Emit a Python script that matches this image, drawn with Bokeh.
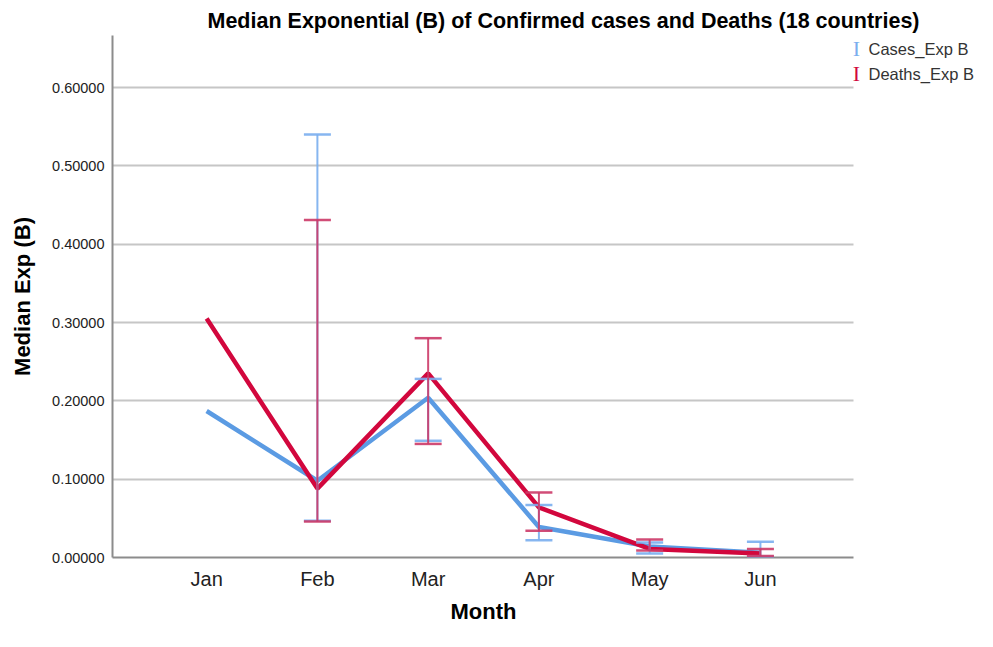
from bokeh.plotting import figure
from bokeh.models import (ColumnDataSource, Range1d, FixedTicker, PrintfTickFormatter,
                          Whisker, TeeHead, Label, Title)
from bokeh.embed import file_html
from bokeh.resources import INLINE

months = ["Jan", "Feb", "Mar", "Apr", "May", "Jun"]
cases_med = [0.187, 0.098, 0.204, 0.039, 0.014, 0.006]
cases_lo = [None, 0.047, 0.149, 0.022, 0.005, 0.001]
cases_hi = [None, 0.540, 0.228, 0.067, 0.019, 0.020]
deaths_med = [0.305, 0.088, 0.235, 0.064, 0.011, 0.005]
deaths_lo = [None, 0.046, 0.145, 0.034, 0.009, 0.002]
deaths_hi = [None, 0.431, 0.280, 0.083, 0.023, 0.011]
y_ticks = [0.0, 0.1, 0.2, 0.3, 0.4, 0.5, 0.6]

title_text = "Median Exponential (B) of Confirmed cases and Deaths (18 countries)"
x_title = "Month"
y_title = "Median Exp (B)"
series_names = ["Cases_Exp B", "Deaths_Exp B"]

BLUE = "#5b9be3"
BLUE_ERR = "#7aaeee"
RED = "#d2073d"
RED_ERR = "#cc3a68"
FONT = "Liberation Sans"

x = list(range(len(months)))

# visible plotting area spans x in [X_LO, X_HI]; the frame extends further right
# so that the legend (drawn as labels) sits inside the frame and is not clipped
X_LO, X_HI, X_FRAME_END = -0.85, 5.84, 6.96

p = figure(width=977, height=631, output_backend="svg", toolbar_location=None,
           x_range=Range1d(X_LO, X_FRAME_END), y_range=Range1d(0, 0.6664),
           min_border_left=112, min_border_right=0, min_border_top=35, min_border_bottom=74)
p.outline_line_color = None
p.background_fill_color = "white"
p.border_fill_color = "white"

# title
p.title = Title(text=title_text, align="left", offset=95, standoff=6,
                text_font=FONT, text_font_style="bold", text_font_size="21.5px",
                text_color="#000000")

# lines
p.line(x, cases_med, line_color=BLUE, line_width=4.5)
p.line(x, deaths_med, line_color=RED, line_width=4.5)

# error bars
def err_source(lo, hi):
    xs, ls, us = [], [], []
    for i, (l, u) in enumerate(zip(lo, hi)):
        if l is not None and u is not None:
            xs.append(i); ls.append(l); us.append(u)
    return ColumnDataSource(dict(x=xs, lower=ls, upper=us))

for lo, hi, col in [(cases_lo, cases_hi, BLUE_ERR), (deaths_lo, deaths_hi, RED_ERR)]:
    src = err_source(lo, hi)
    w = Whisker(base="x", lower="lower", upper="upper", source=src, dimension="height",
                line_color=col, line_width=2, line_alpha=0.9, level="overlay",
                upper_head=TeeHead(size=27, line_color=col, line_width=2.5, line_alpha=0.9),
                lower_head=TeeHead(size=27, line_color=col, line_width=2.5, line_alpha=0.9))
    p.add_layout(w)

# axes
p.xaxis.ticker = FixedTicker(ticks=x)
p.xaxis.major_label_overrides = {i: m for i, m in enumerate(months)}
p.xaxis.bounds = (X_LO, X_HI)
p.yaxis.ticker = FixedTicker(ticks=y_ticks)
p.yaxis.formatter = PrintfTickFormatter(format="%.5f")

for ax in (p.xaxis[0], p.yaxis[0]):
    ax.axis_line_color = "#8c8c8c"
    ax.axis_line_width = 2
    ax.major_tick_out = 0
    ax.major_tick_in = 0
    ax.minor_tick_out = 0
    ax.minor_tick_in = 0
    ax.major_label_text_font = FONT
    ax.major_label_text_color = "#222222"
    ax.axis_label_text_font = FONT
    ax.axis_label_text_font_style = "bold"
    ax.axis_label_text_color = "#000000"
    ax.axis_label_text_font_size = "22px"

p.xaxis.major_label_text_font_size = "20px"
p.xaxis.major_label_standoff = 10

p.yaxis.major_label_text_font_size = "14.5px"
p.yaxis.major_label_standoff = 8
p.yaxis.axis_label = y_title
p.yaxis.axis_label_standoff = 14

# x-axis title centred under the visible plotting area
p.add_layout(Title(text=x_title, align="left", offset=338, standoff=12,
                   vertical_align="top",
                   text_font=FONT, text_font_style="bold", text_font_size="22px",
                   text_color="#000000"), "below")

p.xgrid.visible = False
p.ygrid.ticker = FixedTicker(ticks=y_ticks[1:])
p.ygrid.cross_bounds = (X_LO, X_HI)
p.ygrid.grid_line_color = "#c6c6c6"
p.ygrid.grid_line_width = 2

# legend (manual, to the right of the plotting area)
for i, (name, col) in enumerate(zip(series_names, [BLUE_ERR, RED])):
    yy = 509 - i * 25
    p.add_layout(Label(x=744, y=yy, x_units="screen", y_units="screen", text="I",
                       text_font="Liberation Serif", text_font_size="22px", text_color=col,
                       text_align="center", text_baseline="middle"))
    p.add_layout(Label(x=756, y=yy, x_units="screen", y_units="screen", text=name,
                       text_font=FONT, text_font_size="16.5px", text_color="#333333",
                       text_align="left", text_baseline="middle"))

open("out.html", "w").write(file_html(p, INLINE))
